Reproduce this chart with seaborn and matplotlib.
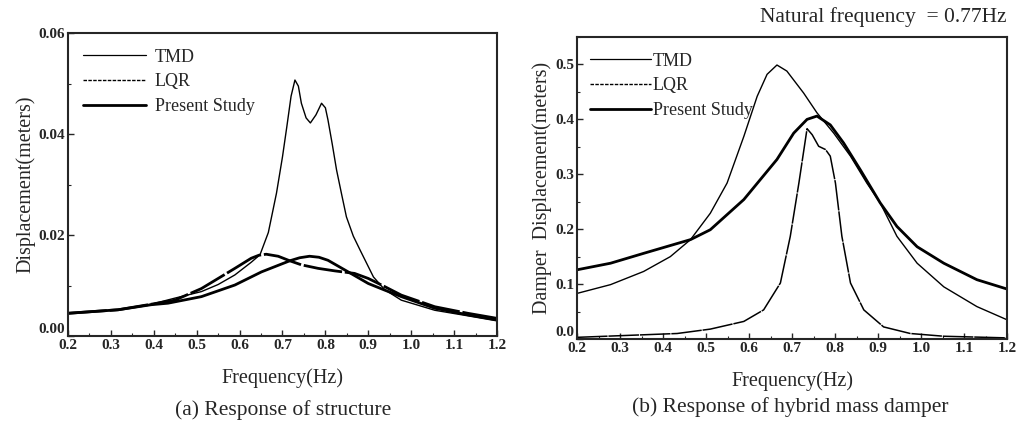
import numpy as np
import pandas as pd
import matplotlib
matplotlib.use('Agg')
import matplotlib.pyplot as plt
from matplotlib.lines import Line2D
from matplotlib.ticker import MultipleLocator
import seaborn as sns

# ---------------- data ----------------
# (a) response of structure
a_tmd_f = [0.2, 0.317, 0.394, 0.449, 0.511, 0.55, 0.589, 0.627, 0.6476, 0.667, 0.686, 0.70,
           0.71, 0.72, 0.729, 0.737, 0.744, 0.755, 0.765, 0.778, 0.791, 0.8, 0.806, 0.816,
           0.826, 0.838, 0.849, 0.865, 0.881, 0.912, 0.938, 0.977, 1.055, 1.132, 1.2]
a_tmd_d = [0.0045, 0.0052, 0.0063, 0.0075, 0.0088, 0.0102, 0.0121, 0.0146, 0.0161, 0.0205,
           0.0283, 0.0355, 0.0414, 0.0475, 0.0507, 0.0495, 0.0461, 0.0432, 0.0422, 0.0438,
           0.0461, 0.0452, 0.0428, 0.0380, 0.0329, 0.0280, 0.0236, 0.0198, 0.0170, 0.0117,
           0.0092, 0.0071, 0.0051, 0.0040, 0.0030]

a_lqr_f = [0.2, 0.317, 0.394, 0.449, 0.511, 0.55, 0.589, 0.627, 0.645, 0.662, 0.69, 0.717,
           0.744, 0.783, 0.822, 0.868, 0.9, 0.938, 0.977, 1.055, 1.132, 1.2]
a_lqr_d = [0.0045, 0.0052, 0.0063, 0.0071, 0.0094, 0.0114, 0.0134, 0.0154, 0.0160, 0.0162,
           0.0158, 0.0149, 0.0141, 0.0134, 0.0129, 0.0124, 0.0114, 0.0098, 0.0081, 0.0058,
           0.0045, 0.0035]

a_ps_f = [0.2, 0.317, 0.394, 0.433, 0.511, 0.589, 0.651, 0.717, 0.74, 0.763, 0.785, 0.806,
          0.845, 0.9, 0.938, 0.977, 1.055, 1.132, 1.2]
a_ps_d = [0.0045, 0.0052, 0.0062, 0.0065, 0.0078, 0.0101, 0.0127, 0.0149, 0.0155, 0.0158,
          0.0156, 0.0150, 0.0131, 0.0104, 0.0091, 0.0078, 0.0055, 0.0042, 0.0032]

# (b) response of hybrid mass damper
b_tmd_f = [0.2, 0.278, 0.355, 0.417, 0.464, 0.51, 0.549, 0.588, 0.619, 0.642, 0.665, 0.688,
           0.727, 0.758, 0.797, 0.836, 0.874, 0.905, 0.944, 0.991, 1.053, 1.13, 1.2]
b_tmd_d = [0.083, 0.099, 0.123, 0.150, 0.181, 0.229, 0.284, 0.369, 0.442, 0.482, 0.499, 0.488,
           0.448, 0.412, 0.375, 0.333, 0.284, 0.248, 0.187, 0.138, 0.095, 0.059, 0.035]

b_lqr_f = [0.2, 0.3, 0.433, 0.51, 0.588, 0.634, 0.673, 0.696, 0.716, 0.735, 0.747, 0.762,
           0.778, 0.789, 0.801, 0.816, 0.836, 0.867, 0.913, 0.975, 1.053, 1.2]
b_lqr_d = [0.003, 0.006, 0.010, 0.018, 0.032, 0.053, 0.102, 0.187, 0.284, 0.383, 0.372,
           0.351, 0.345, 0.333, 0.284, 0.187, 0.102, 0.053, 0.022, 0.010, 0.005, 0.002]

b_ps_f = [0.2, 0.278, 0.355, 0.464, 0.51, 0.588, 0.665, 0.704, 0.735, 0.758, 0.789, 0.82,
          0.859, 0.905, 0.944, 0.991, 1.053, 1.13, 1.2]
b_ps_d = [0.126, 0.138, 0.156, 0.181, 0.199, 0.254, 0.327, 0.375, 0.400, 0.406, 0.390, 0.357,
          0.308, 0.248, 0.205, 0.168, 0.138, 0.108, 0.091]

series_names = ['TMD', 'LQR', 'Present Study']
x_ticks = [0.2, 0.3, 0.4, 0.5, 0.6, 0.7, 0.8, 0.9, 1.0, 1.1, 1.2]
a_y_ticks = [0.00, 0.02, 0.04, 0.06]
b_y_ticks = [0.0, 0.1, 0.2, 0.3, 0.4, 0.5]

# ---------------- style ----------------
sns.set_style('ticks')
plt.rcParams['font.family'] = ['Liberation Serif', 'DejaVu Serif']
plt.rcParams['axes.linewidth'] = 1.5
plt.rcParams['lines.solid_joinstyle'] = 'round'

fig = plt.figure(figsize=(10.18, 4.24), dpi=100)
ax_a = fig.add_axes([0.0668, 0.2075, 0.4214, 0.7145])
ax_b = fig.add_axes([0.5668, 0.2005, 0.4224, 0.7122])


def frame(f, d, name):
    return pd.DataFrame({'f': f, 'd': d, 'name': name})


def draw(ax, parts, ylim, yticks, minor, fmt):
    for df, lw, ls in parts:
        sns.lineplot(data=df, x='f', y='d', ax=ax, color='black', lw=lw,
                     linestyle=ls, sort=False, estimator=None, legend=False)
    ax.set_xlim(0.2, 1.2)
    ax.set_ylim(*ylim)
    ax.set_xticks(x_ticks)
    ax.set_xticklabels([f'{t:.1f}' for t in x_ticks])
    ax.set_yticks(yticks)
    ax.set_yticklabels([fmt % t for t in yticks])
    ax.xaxis.set_minor_locator(MultipleLocator(0.05))
    ax.yaxis.set_minor_locator(MultipleLocator(minor))
    ax.tick_params(which='major', direction='in', length=4, width=1, labelsize=11, pad=2)
    ax.tick_params(which='minor', direction='in', length=2, width=0.8)
    for lab in ax.get_xticklabels() + ax.get_yticklabels():
        lab.set_fontweight('bold')
    # zero label sits a little above the corner, as in the original
    ax.get_yticklabels()[0].set_va('bottom')
    ax.set_xlabel('Frequency(Hz)', fontsize=14.5, labelpad=12)
    for s in ax.spines.values():
        s.set_visible(True)
        s.set_linewidth(1.5)


draw(ax_a,
     [(frame(a_tmd_f, a_tmd_d, 'TMD'), 1.0, '-'),
      (frame(a_lqr_f, a_lqr_d, 'LQR'), 2.0, (0, (14, 1))),
      (frame(a_ps_f, a_ps_d, 'Present Study'), 2.0, '-')],
     (0, 0.06), a_y_ticks, 0.01, '%.2f')
ax_a.set_ylabel('Displacement(meters)', fontsize=14.5, labelpad=2)

draw(ax_b,
     [(frame(b_tmd_f, b_tmd_d, 'TMD'), 1.0, '-'),
      (frame(b_lqr_f, b_lqr_d, 'LQR'), 1.1, (0, (20, 0.6))),
      (frame(b_ps_f, b_ps_d, 'Present Study'), 2.0, '-')],
     (0, 0.55), b_y_ticks, 0.05, '%.1f')
ax_b.set_ylabel('Damper  Displacement(meters)', fontsize=14.5, labelpad=2)

handles = [Line2D([], [], color='black', lw=0.9),
           Line2D([], [], color='black', lw=1.0, linestyle=(0, (2.5, 1))),
           Line2D([], [], color='black', lw=2.0)]
ax_a.legend(handles, series_names, loc='upper left', frameon=False, fontsize=13,
            handlelength=3.5, handletextpad=0.5, labelspacing=0.42,
            borderaxespad=0.3, bbox_to_anchor=(0.005, 0.99))
ax_b.legend(handles, series_names, loc='upper left', frameon=False, fontsize=13,
            handlelength=3.4, handletextpad=0.1, labelspacing=0.42,
            borderaxespad=0.3, bbox_to_anchor=(0.0, 0.99))

fig.text(0.278, 0.033, '(a) Response of structure', ha='center', va='center', fontsize=15.5)
fig.text(0.776, 0.04, '(b) Response of hybrid mass damper', ha='center', va='center',
         fontsize=15.5)
fig.text(0.989, 0.96, 'Natural frequency  = 0.77Hz', ha='right', va='center', fontsize=15.5)

fig.savefig('out.png', dpi=100)
